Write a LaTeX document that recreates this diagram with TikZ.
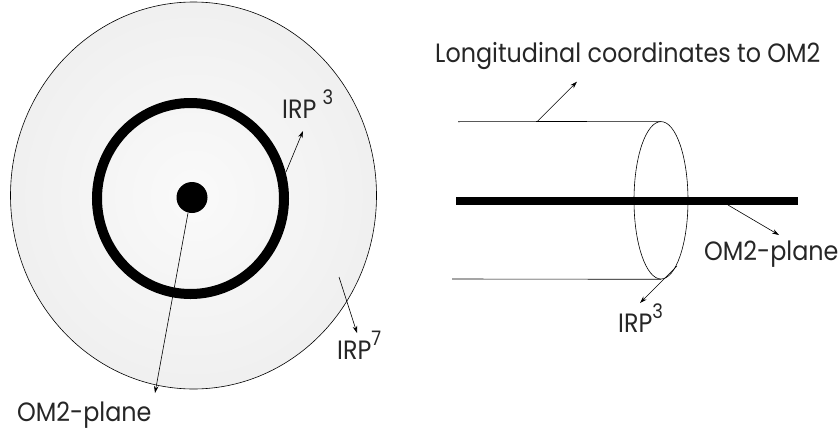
\documentclass[tikz,border=0pt]{standalone}
\usepackage{fontspec}
\setmainfont{Poppins}[FakeStretch=0.9]
\usetikzlibrary{arrows.meta,shapes.geometric}
\newcommand{\irpsup}[1]{IRP\raisebox{0.5em}{\fontsize{20}{20}\selectfont #1}}
\begin{document}
\begin{tikzpicture}[x=1pt,y=-1pt,
  lbl/.style={font=\fontsize{26.5}{26.5}\selectfont, inner sep=0pt, text=black!85},
  ptr/.style={line width=0.6pt, -{Stealth[length=7pt,width=4.5pt]}},
  thin/.style={line width=0.6pt}]
\useasboundingbox (0,0) rectangle (839,429);
% left disc
\shade[inner color=gray!4, outer color=gray!12] (193.5,195.5) ellipse [x radius=183, y radius=193.5];
\node[ellipse, draw, thin, minimum width=366pt, minimum height=387pt, inner sep=0pt] (disc) at (193.5,195.5) {};
\node[ellipse, draw, line width=10pt, minimum width=187pt, minimum height=191pt, inner sep=0pt] (ring) at (190.5,198.5) {};
\node[circle, fill=black, minimum size=31pt, inner sep=0pt] (dot) at (192,197.5) {};
% labels left
\node[lbl, anchor=base west] (irpA) at (282,118) {IRP\ \raisebox{0.5em}{\fontsize{20}{20}\selectfont 3}};
\node[lbl, anchor=base west] (irpB) at (337,359) {\irpsup{7}};
\node[lbl, anchor=base west] (omL) at (17,421) {OM2-plane};
\coordinate (a1s) at (286,172);
\coordinate (a1e) at (303,131);
\coordinate (a2s) at (339,277);
\coordinate (a2e) at (357,333);
\coordinate (a3s) at (188,213);
\coordinate (a3e) at (155,393);
\draw[ptr] (a1s) -- (a1e);
\draw[ptr] (a2s) -- (a2e);
\draw[ptr] (a3s) -- (a3e);
% right cylinder
\node[ellipse, draw, thin, minimum width=54pt, minimum height=157.4pt, inner sep=0pt] (cap) at (661,200.3) {};
\coordinate (tl) at (458,121.7);
\coordinate (bl) at (452,279);
\draw[thin] (tl) -- (cap.north);
\draw[thin] (bl) -- (cap.south);
\coordinate (barL) at (456,201);
\coordinate (barR) at (798,201);
\draw[line width=8pt] (barL) -- (barR);
\node[lbl, anchor=base west] (lon) at (435,62) {Longitudinal coordinates to OM2};
\node[lbl, anchor=base west] (omR) at (704,260) {OM2-plane};
\node[lbl, anchor=base west] (irpC) at (618,332) {\irpsup{3}};
\coordinate (b1s) at (537,121.7);
\coordinate (b1e) at (577,81.7);
\coordinate (b2s) at (728,205);
\coordinate (b2e) at (779,235);
\coordinate (b3s) at (677,266);
\coordinate (b3e) at (640,303);
\draw[ptr] (b1s) -- (b1e);
\draw[ptr] (b2s) -- (b2e);
\draw[ptr] (b3s) -- (b3e);
\end{tikzpicture}
\end{document}
